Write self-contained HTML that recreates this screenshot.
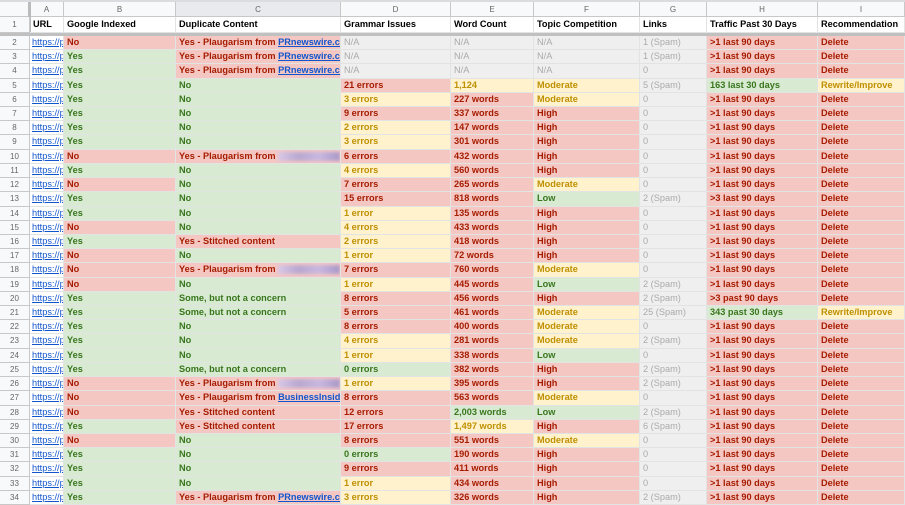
<!DOCTYPE html>
<html><head><meta charset="utf-8">
<style>
body{margin:0;width:905px;height:505px;overflow:hidden;background:#fff;font-family:"Liberation Sans",Arial,sans-serif;}
#s{position:relative;width:905px;height:505px;}
.c{position:absolute;box-sizing:border-box;border-right:1px solid #e2e3e3;border-bottom:1px solid #e2e3e3;font-size:9.2px;font-weight:bold;line-height:13px;padding-left:3px;white-space:nowrap;overflow:hidden;}
.h{background:#f8f9fa;color:#666;font-weight:normal;font-size:8px;text-align:center;padding:0;border-color:#c8c8c8;}
.r{background:#f4c7c3;color:#a61c00}
.G{background:#d9ead3;color:#38761d}
.y{background:#fff2cc;color:#bf9000}
.g{background:#efefef;color:#aaa;font-weight:normal}
.u{color:#1155cc;text-decoration:underline;font-weight:normal}
a{color:#1155cc;text-decoration:underline}
.bl{display:inline-block;width:62px;height:9px;background:linear-gradient(90deg,#d8c8e8,#b8a8d0,#c8b8e0,#a898c8);filter:blur(1.5px);vertical-align:middle}
</style></head><body><div id="s"></div>
<script>
var X=[0,30,64,176,341,451,534,640,707,818,905];
var L=["","A","B","C","D","E","F","G","H","I"];
var H1=["URL","Google Indexed","Duplicate Content","Grammar Issues","Word Count","Topic Competition","Links","Traffic Past 30 Days","Recommendation"];
var P='Yes - Plaugarism from <a>PRnewswire.co</a>',B='Yes - Plaugarism from <span class="bl"></span>',S='Yes - Stitched content',SO='Some, but not a concern';
var D=[
["rNo","r"+P,"gN/A","gN/A","gN/A","g1 (Spam)"],
["GYes","r"+P,"gN/A","gN/A","gN/A","g1 (Spam)"],
["GYes","r"+P,"gN/A","gN/A","gN/A","g0"],
["GYes","GNo","r21 errors","y1,124","yModerate","g5 (Spam)","G163 last 30 days","yRewrite/Improve"],
["GYes","GNo","y3 errors","r227 words","yModerate","g0"],
["GYes","GNo","r9 errors","r337 words","rHigh","g0"],
["GYes","GNo","y2 errors","r147 words","rHigh","g0"],
["GYes","GNo","y3 errors","r301 words","rHigh","g0"],
["rNo","r"+B,"r6 errors","r432 words","rHigh","g0"],
["GYes","GNo","y4 errors","r560 words","rHigh","g0"],
["rNo","GNo","r7 errors","r265 words","yModerate","g0"],
["GYes","GNo","r15 errors","r818 words","GLow","g2 (Spam)","r>3 last 90 days"],
["GYes","GNo","y1 error","r135 words","rHigh","g0"],
["rNo","GNo","y4 errors","r433 words","rHigh","g0"],
["GYes","r"+S,"y2 errors","r418 words","rHigh","g0"],
["rNo","GNo","y1 error","r72 words","rHigh","g0"],
["rNo","r"+B,"r7 errors","r760 words","yModerate","g0"],
["rNo","GNo","y1 error","r445 words","GLow","g2 (Spam)"],
["GYes","G"+SO,"r8 errors","r456 words","rHigh","g2 (Spam)","r>3 past 90 days"],
["GYes","G"+SO,"r5 errors","r461 words","yModerate","g25 (Spam)","G343 past 30 days","yRewrite/Improve"],
["GYes","GNo","r8 errors","r400 words","yModerate","g0"],
["GYes","GNo","y4 errors","r281 words","yModerate","g2 (Spam)"],
["GYes","GNo","y1 error","r338 words","GLow","g0"],
["GYes","G"+SO,"G0 errors","r382 words","rHigh","g2 (Spam)"],
["rNo","r"+B,"y1 error","r395 words","rHigh","g2 (Spam)"],
["rNo","rYes - Plaugarism from <a>BusinessInside</a>","r8 errors","r563 words","yModerate","g0"],
["rNo","r"+S,"r12 errors","G2,003 words","GLow","g2 (Spam)"],
["GYes","r"+S,"r17 errors","y1,497 words","rHigh","g6 (Spam)"],
["rNo","GNo","r8 errors","r551 words","yModerate","g0"],
["GYes","GNo","G0 errors","r190 words","rHigh","g0"],
["GYes","GNo","r9 errors","r411 words","rHigh","g0"],
["GYes","GNo","y1 error","r434 words","rHigh","g0"],
["GYes","r"+P,"y3 errors","r326 words","rHigh","g2 (Spam)"]
];
var h='';
function cell(x0,x1,y0,y1,cls,t,st){h+='<div class="c '+cls+'" style="left:'+x0+'px;top:'+y0+'px;width:'+(x1-x0)+'px;height:'+(y1-y0)+'px;'+(st||'')+'">'+t+'</div>';}
for(var i=0;i<10;i++){cell(X[i],X[i+1],2,17,'h',L[i],'line-height:15px;'+(i==3?'background:#e8eaed;':''));}
h+='<div style="position:absolute;left:0;top:0;width:905px;height:2px;background:#dadce0"></div>';
h+='<div style="position:absolute;left:28px;top:2px;width:3px;height:33px;background:#bbb"></div>';
cell(0,30,17,33,'h','1','line-height:15px;');
for(var i=1;i<10;i++)cell(X[i],X[i+1],17,33,'',H1[i-1],'color:#000;line-height:15px;');
h+='<div style="position:absolute;left:0;top:33px;width:905px;height:3px;background:#c0c0c0"></div>';
var y=36,rh=(505-36)/33;
for(var r=0;r<33;r++){
 var y0=Math.round(y+r*rh),y1=Math.round(y+(r+1)*rh);
 cell(0,30,y0,y1,'h',''+(r+2),'line-height:13px;');
 cell(X[1],X[2],y0,y1,'','<span class="u">https://p</span>','padding-left:2px;');
 var d=D[r].slice();
 if(d.length<7)d.push('r>1 last 90 days');
 if(d.length<8)d.push('rDelete');
 for(var c=0;c<8;c++){var s=d[c];cell(X[c+2],X[c+3],y0,y1,s[0],s.slice(1));}
}
document.getElementById('s').innerHTML=h;
</script></body></html>
